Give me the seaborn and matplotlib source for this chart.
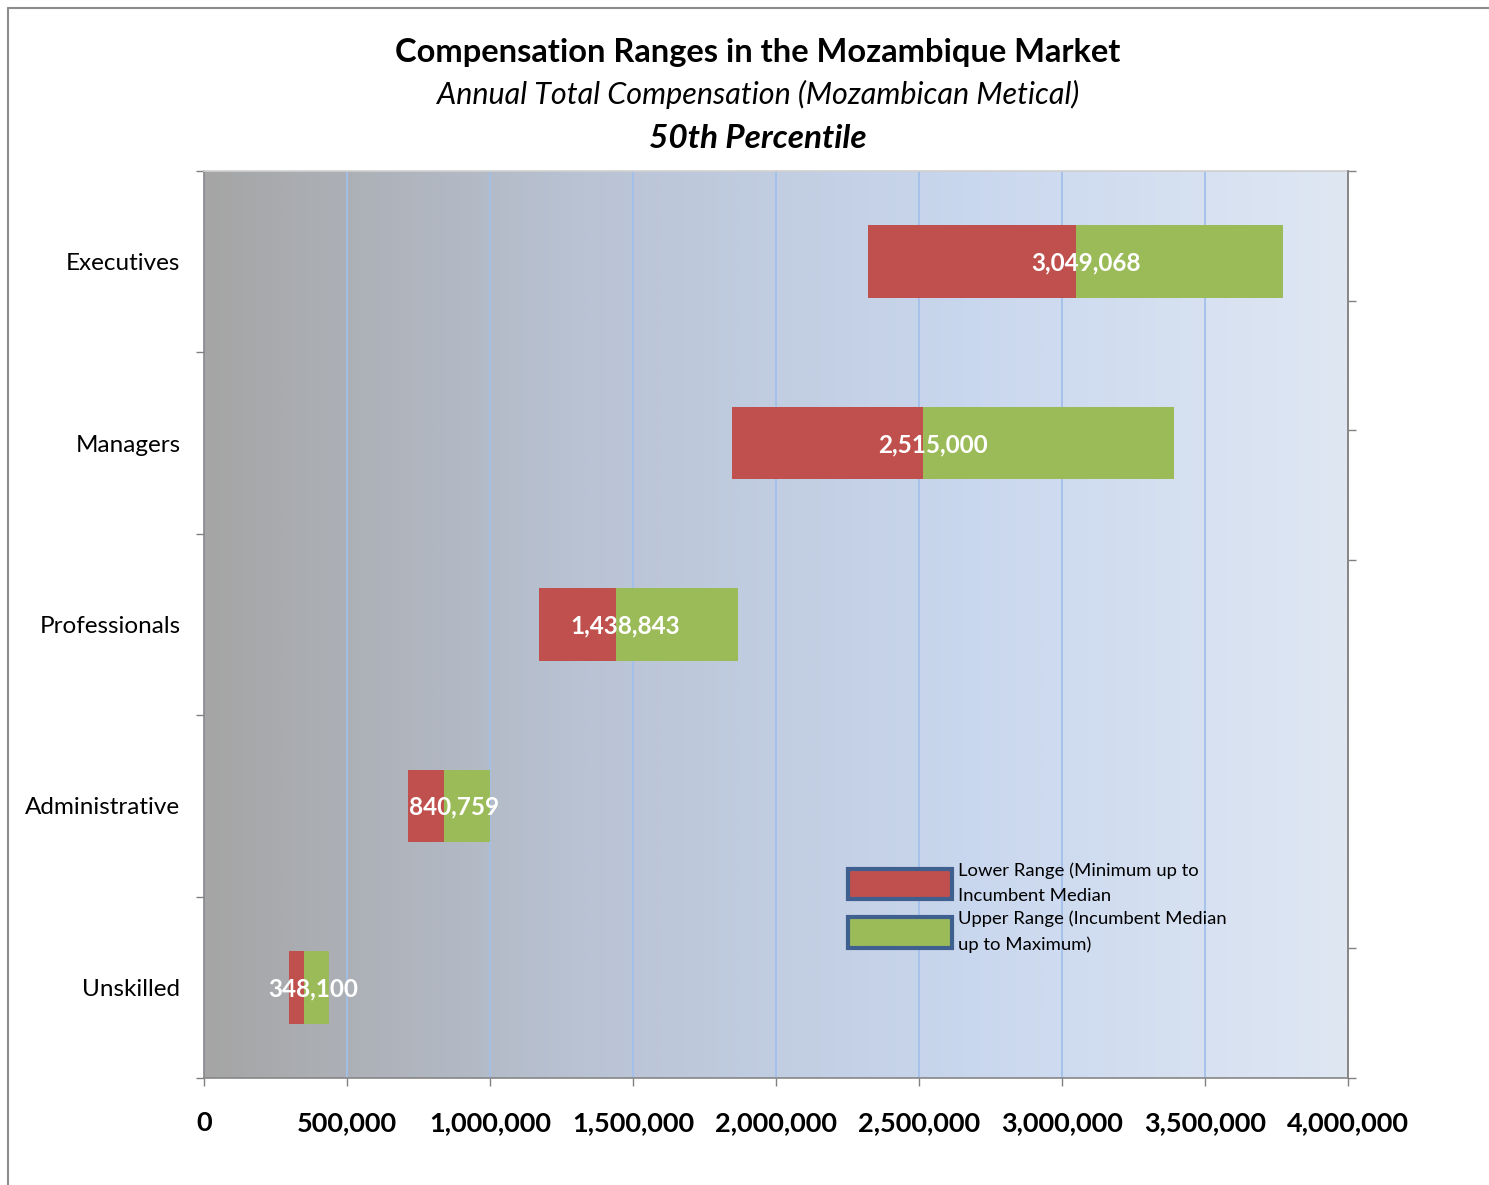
import numpy as np
import pandas as pd
import matplotlib
matplotlib.use("Agg")
import matplotlib.pyplot as plt
import seaborn as sns
from matplotlib.patches import Patch
from matplotlib.lines import Line2D
from matplotlib.colors import LinearSegmentedColormap

# ---- data ----
categories = ["Executives", "Managers", "Professionals", "Administrative", "Unskilled"]
minimum = [2320000, 1845000, 1170000, 713000, 297000]
median = [3049068, 2515000, 1438843, 840759, 348100]
maximum = [3773000, 3392000, 1867000, 1000000, 437000]
x_ticks = [0, 500000, 1000000, 1500000, 2000000, 2500000, 3000000, 3500000, 4000000]
x_tick_labels = ["0", "500,000", "1,000,000", "1,500,000", "2,000,000",
                 "2,500,000", "3,000,000", "3,500,000", "4,000,000"]
legend_labels = ["Lower Range (Minimum up to\nIncumbent Median",
                 "Upper Range (Incumbent Median\nup to Maximum)"]

RED = "#c0504d"
GREEN = "#9bbb59"

sns.set_theme(style="white")
plt.rcParams['font.family'] = ['Lato', 'DejaVu Sans']
plt.rcParams['text.color'] = 'black'

df = pd.DataFrame({
    "category": categories,
    "lower": np.array(median) - np.array(minimum),
    "upper": np.array(maximum) - np.array(median),
})

fig = plt.figure(figsize=(14.89, 11.85), dpi=100)
ax = fig.add_axes([0.137, 0.0903, 0.7683, 0.7654])

sns.barplot(data=df, x="lower", y="category", orient="h", color=RED, saturation=1,
            width=0.4, errorbar=None, linewidth=0, ax=ax)
n = len(categories)
for p, left in zip(ax.patches[:n], minimum):
    p.set_x(left)
sns.barplot(data=df, x="upper", y="category", orient="h", color=GREEN, saturation=1,
            width=0.4, errorbar=None, linewidth=0, ax=ax)
for p, left in zip(ax.patches[n:], median):
    p.set_x(left)

# gradient background
cmap = LinearSegmentedColormap.from_list("bg", ["#a5a5a5", "#b9c3d4", "#c9d7ee", "#dfe7f3"])
grad = np.linspace(0, 1, 512).reshape(1, -1)
ax.imshow(grad, extent=[0, 4000000, 4.5, -0.5], aspect="auto", cmap=cmap, zorder=0)
ax.set_xlim(0, 4000000)
ax.set_ylim(4.5, -0.5)

ax.set_axisbelow(True)
ax.grid(axis="x", color="#a3c0ea", linewidth=1.3)
ax.grid(axis="y", visible=False)

for i, m in enumerate(median):
    ax.annotate(f"{m:,}", xy=(m, i), xytext=(7, -1), textcoords="offset points",
                ha="center", va="center", color="white", fontweight="bold", fontsize=17.5)

ax.set_xlabel("")
ax.set_ylabel("")
ax.set_xticks(x_ticks, x_tick_labels)
for t in ax.get_xticklabels():
    t.set_fontweight("bold")
ax.tick_params(axis="x", labelsize=19.5, length=6, width=1, color="#808080",
               pad=18, bottom=True, labelcolor="black")
ax.set_yticks(range(n), categories)
ax.tick_params(axis="y", which="major", labelsize=17.5, length=0, pad=17, labelcolor="black")
ax.set_yticks(np.arange(-0.5, n, 1), minor=True)
ax.tick_params(axis="y", which="minor", length=6, width=1, color="#808080", left=True)

for s in ["left", "bottom", "right"]:
    ax.spines[s].set_color("#868686")
    ax.spines[s].set_linewidth(1.2)
ax.spines["top"].set_color("#d0d0d0")

ax2 = ax.twinx()
ax2.set_ylim(0, 7)
ax2.set_yticks([0, 1, 4, 5, 6, 7])
ax2.set_yticklabels([])
ax2.tick_params(axis="y", length=6, width=1, color="#808080", right=True)
ax2.spines["right"].set_color("#868686")
ax2.spines["right"].set_linewidth(1.2)
for s in ["left", "bottom", "top"]:
    ax2.spines[s].set_visible(False)
ax2.grid(False)

handles = [Patch(facecolor=RED, edgecolor="#3f5f8f", linewidth=3),
           Patch(facecolor=GREEN, edgecolor="#3f5f8f", linewidth=3)]
leg = ax.legend(handles, legend_labels, loc="upper left", bbox_to_anchor=(0.563, 0.238),
                frameon=False, fontsize=13.3, handlelength=5.6, handleheight=2.2,
                handletextpad=0.35, labelspacing=0.3, borderpad=0, borderaxespad=0)
for t in leg.get_texts():
    t.set_linespacing(1.75)
    t.set_color("black")

fig.text(0.509, 0.956, "Compensation Ranges in the Mozambique Market",
         ha="center", va="center", fontsize=23.5, fontweight="bold")
fig.text(0.509, 0.9207, "Annual Total Compensation (Mozambican Metical)",
         ha="center", va="center", fontsize=22, fontstyle="italic")
fig.text(0.509, 0.8835, "50th Percentile",
         ha="center", va="center", fontsize=24, fontstyle="italic", fontweight="bold")

fig.add_artist(Line2D([8/1489, 8/1489], [0, 1 - 8/1185], transform=fig.transFigure,
                      color="#8c8c8c", linewidth=1.5))
fig.add_artist(Line2D([8/1489, 1], [1 - 8/1185, 1 - 8/1185], transform=fig.transFigure,
                      color="#8c8c8c", linewidth=1.5))

fig.savefig("out.png", dpi=100)
